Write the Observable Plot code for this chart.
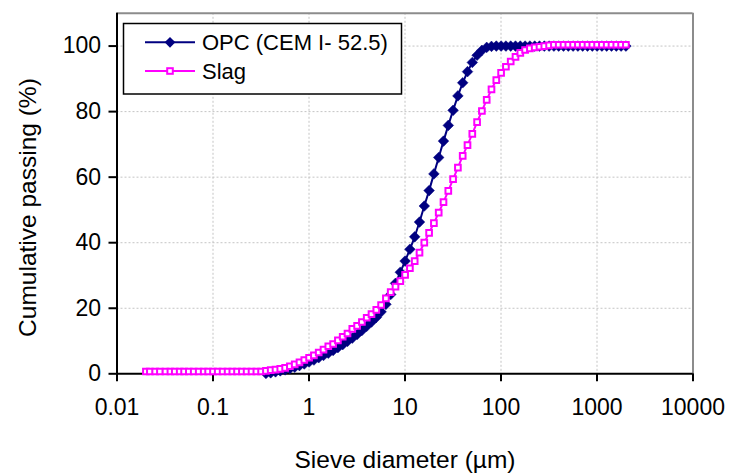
<!DOCTYPE html>
<html>
<head>
<meta charset="utf-8">
<script src="https://cdn.jsdelivr.net/npm/d3@7"></script>
<script src="https://cdn.jsdelivr.net/npm/@observablehq/plot@0.6"></script>
<style>
  body { margin: 0; background: #fff; }
  #chart svg { display: block; }
</style>
</head>
<body>
<div id="chart"></div>
<script>
// Laser-diffraction size classes (µm), 0.02 – 2000 µm
const sizes = [
  0.020, 0.022, 0.025, 0.028, 0.032, 0.036, 0.040, 0.045, 0.050, 0.056,
  0.063, 0.071, 0.080, 0.089, 0.100, 0.112, 0.126, 0.142, 0.159, 0.178,
  0.200, 0.224, 0.252, 0.283, 0.317, 0.356, 0.399, 0.448, 0.502, 0.564,
  0.632, 0.710, 0.796, 0.893, 1.002, 1.125, 1.262, 1.416, 1.589, 1.783,
  2.000, 2.244, 2.518, 2.825, 3.170, 3.557, 3.991, 4.477, 5.024, 5.637,
  6.325, 7.096, 7.962, 8.934, 10.024, 11.247, 12.619, 14.159, 15.887, 17.825,
  20.000, 22.440, 25.179, 28.251, 31.698, 35.566, 39.905, 44.774, 50.238, 56.368,
  63.246, 70.963, 79.621, 89.337, 100.237, 112.468, 126.191, 141.589, 158.866, 178.250,
  200.000, 224.404, 251.785, 282.508, 316.979, 355.656, 399.052, 447.744, 502.377, 563.677,
  632.456, 709.627, 796.214, 893.367, 1002.374, 1124.683, 1261.915, 1415.892, 1588.656, 1782.502,
  2000.000
];

// Cumulative passing (%) of the OPC, reported from 0.356 µm upward
const opcFirstClass = 25;
const opcPassing = [
  0.1, 0.3, 0.6, 0.9, 1.2, 1.6, 2.0, 2.5, 3.0, 3.6,
  4.2, 4.9, 5.6, 6.3, 7.1, 8.0, 8.9, 9.9, 10.9, 12.0,
  13.2, 14.5, 15.8, 17.2, 18.9, 21.2, 24.2, 27.6, 31.0, 34.4,
  38.0, 41.8, 46.3, 51.2, 55.9, 61.0, 66.0, 71.0, 75.8, 80.4,
  84.8, 88.8, 92.2, 95.0, 97.2, 98.7, 99.6, 99.9, 100, 100,
  100, 100, 100, 100, 100, 100, 100, 100, 100, 100,
  100, 100, 100, 100, 100, 100, 100, 100, 100, 100,
  100, 100, 100, 100, 100, 100
];

// Cumulative passing (%) of the slag over every size class
const slagPassing = [
  0.7, 0.7, 0.7, 0.7, 0.7, 0.7, 0.7, 0.7, 0.7, 0.7,
  0.7, 0.7, 0.7, 0.7, 0.7, 0.7, 0.7, 0.7, 0.7, 0.7,
  0.7, 0.7, 0.7, 0.7, 0.7, 0.9, 1.1, 1.3, 1.5, 1.8,
  2.3, 2.9, 3.5, 4.2, 4.9, 5.6, 6.5, 7.4, 8.4, 9.1,
  10.2, 11.3, 12.3, 13.7, 14.6, 15.8, 17.1, 18.2, 19.5, 21.0,
  23.0, 24.9, 26.6, 28.3, 30.2, 32.2, 34.4, 37.0, 40.0, 43.0,
  46.0, 49.2, 52.4, 55.8, 59.4, 62.9, 66.5, 69.8, 73.2, 76.8,
  80.2, 83.6, 86.8, 89.6, 91.8, 93.7, 95.3, 96.7, 97.9, 98.8,
  99.3, 99.6, 99.8, 100.0, 100.2, 100.4, 100.4, 100.4, 100.4, 100.4,
  100.4, 100.4, 100.4, 100.4, 100.4, 100.4, 100.4, 100.4, 100.4, 100.4,
  100.4
];

const seriesNames = ["OPC (CEM I- 52.5)", "Slag"];
const seriesColors = ["#000080", "#ff00ff"];

const xTicks = [0.01, 0.1, 1, 10, 100, 1000, 10000];
const xTickLabels = ["0.01", "0.1", "1", "10", "100", "1000", "10000"];
const yTicks = [0, 20, 40, 60, 80, 100];
const xLabel = "Sieve diameter (µm)";
const yLabel = "Cumulative passing (%)";

const opcRows = opcPassing.map((p, i) => ({size: sizes[opcFirstClass + i], pass: p}));
const slagRows = slagPassing.map((p, i) => ({size: sizes[i], pass: p}));

const font = "'Liberation Sans', Arial, sans-serif";

const plot = Plot.plot({
  width: 730,
  height: 474,
  marginLeft: 116.5,
  marginRight: 37.5,
  marginTop: 12.8,
  marginBottom: 100.7,
  style: {fontFamily: font, fontSize: "23px", background: "#fff", overflow: "visible"},
  x: {type: "log", domain: [0.01, 10000]},
  y: {domain: [0, 110]},
  marks: [
    Plot.gridX(xTicks.slice(1, -1), {stroke: "#c4c4c4", strokeOpacity: 1, strokeDasharray: "2,2"}),
    Plot.gridY(yTicks.slice(1), {stroke: "#c4c4c4", strokeOpacity: 1, strokeDasharray: "2,2"}),
    Plot.ruleY([110], {stroke: "#8c8c8c", strokeWidth: 2}),
    Plot.ruleX([10000], {stroke: "#8c8c8c", strokeWidth: 2}),
    Plot.axisX(xTicks, {
      tickSize: 8, tickPadding: 17, strokeWidth: 2, color: "black",
      fontSize: 23, label: null,
      tickFormat: (d) => xTickLabels[xTicks.indexOf(d)]
    }),
    Plot.axisY(yTicks, {
      tickSize: 8, tickPadding: 8, strokeWidth: 2, color: "black",
      fontSize: 23, label: null, tickFormat: d => String(d)
    }),
    Plot.ruleX([0.01], {stroke: "black", strokeWidth: 2}),
    Plot.ruleY([0], {stroke: "black", strokeWidth: 2}),
    // OPC series: navy line with filled diamonds
    Plot.line(opcRows, {x: "size", y: "pass", stroke: seriesColors[0], strokeWidth: 2}),
    Plot.dot(opcRows, {x: "size", y: "pass", symbol: "diamond2", r: 4.8, fill: seriesColors[0], stroke: seriesColors[0], strokeWidth: 0.5}),
    // Slag series: magenta line with hollow squares
    Plot.line(slagRows, {x: "size", y: "pass", stroke: seriesColors[1], strokeWidth: 2}),
    Plot.dot(slagRows, {x: "size", y: "pass", symbol: "square", r: 3.2, fill: "white", stroke: seriesColors[1], strokeWidth: 2}),
    // Axis titles
    Plot.text([xLabel], {frameAnchor: "bottom", dy: 86, fontSize: 24.5, fill: "black", textAnchor: "middle", lineAnchor: "middle"}),
    Plot.text([yLabel], {frameAnchor: "left", dx: -89, dy: 14, rotate: -90, fontSize: 24.5, fill: "black", textAnchor: "middle", lineAnchor: "middle"})
  ]
});

// Legend box in the upper-left corner of the plotting area
const svg = d3.select(plot);
const legend = svg.append("g")
  .attr("font-family", font).attr("font-size", 22).attr("text-anchor", "start");
legend.append("rect")
  .attr("x", 123.5).attr("y", 23.5).attr("width", 278).attr("height", 70.5)
  .attr("fill", "white").attr("stroke", "black").attr("stroke-width", 1.5);
seriesNames.forEach((name, i) => {
  const cy = 42.3 + i * 28.7;
  const g = legend.append("g");
  g.append("line").attr("x1", 145).attr("x2", 195).attr("y1", cy).attr("y2", cy)
    .attr("stroke", seriesColors[i]).attr("stroke-width", 2);
  if (i === 0) {
    g.append("path").attr("d", d3.symbol(d3.symbolDiamond2, Math.PI * 4.8 * 4.8)())
      .attr("transform", `translate(170,${cy})`).attr("fill", seriesColors[i]);
  } else {
    g.append("rect").attr("x", 167.2).attr("y", cy - 2.8).attr("width", 5.6).attr("height", 5.6)
      .attr("fill", "white").attr("stroke", seriesColors[i]).attr("stroke-width", 2);
  }
  g.append("text").attr("x", 202).attr("y", cy).attr("dy", "0.35em")
    .attr("text-anchor", "start").attr("fill", "black").text(name);
});

document.getElementById("chart").appendChild(plot);
</script>
</body>
</html>
